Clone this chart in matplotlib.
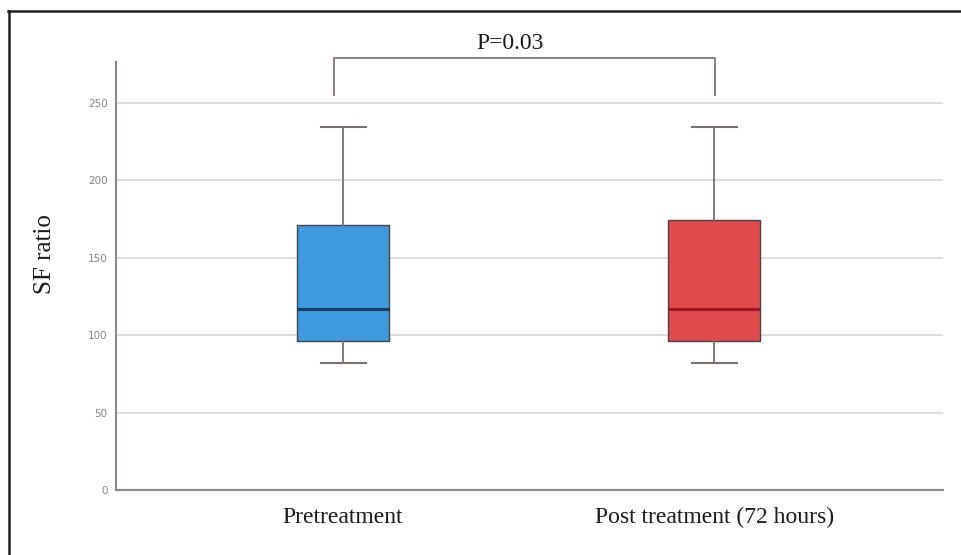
import matplotlib
matplotlib.use("Agg")
import matplotlib.pyplot as plt
from matplotlib.lines import Line2D

# ---- data ----
categories = ["Pretreatment", "Post treatment (72 hours)"]
whisker_low = [81.8, 82.0]
q1 = [96.3, 96.5]
median = [116.9, 117.0]
q3 = [171.2, 174.4]
whisker_high = [234.7, 234.6]
y_ticks = [0, 50, 100, 150, 200, 250]
p_text = "P=0.03"

box_colors = ["#3d9ade", "#e04a4c"]
median_colors = ["#173a68", "#9c1626"]

fig = plt.figure(figsize=(9.62, 5.55), dpi=100)
ax = fig.add_axes([116 / 962, 1 - 490 / 555, (943 - 116) / 962, (490 - 62) / 555])

positions = list(range(len(categories)))
stats = []
for i, c in enumerate(categories):
    stats.append(dict(label=c, whislo=whisker_low[i], q1=q1[i], med=median[i],
                      q3=q3[i], whishi=whisker_high[i], fliers=[]))

bp = ax.bxp(stats, positions=positions, widths=0.248, capwidths=0.121,
            patch_artist=True, showfliers=False, zorder=3,
            whiskerprops=dict(color="#7d716c", lw=1.3),
            capprops=dict(color="#7d716c", lw=1.5),
            boxprops=dict(edgecolor="#4a4444", lw=1.0))
for i, patch in enumerate(bp["boxes"]):
    patch.set_facecolor(box_colors[i])
for i, med in enumerate(bp["medians"]):
    med.set_color(median_colors[i])
    med.set_linewidth(2.2)

ax.set_xlim(-0.612, 1.617)
ax.set_ylim(0, 276.5)
ax.set_yticks(y_ticks)
ax.set_yticklabels([str(t) for t in y_ticks])
ax.tick_params(axis="y", length=0, pad=6, labelsize=7.5, labelcolor="#8a837f")
ax.tick_params(axis="x", length=0, pad=12, labelsize=17)
for lbl in ax.get_xticklabels():
    lbl.set_family("Liberation Serif")
    lbl.set_color("#1a1a1a")

ax.yaxis.grid(True, color="#ddd6d2", lw=1.2, zorder=0)
ax.set_axisbelow(True)
for s in ["top", "right"]:
    ax.spines[s].set_visible(False)
for s in ["left", "bottom"]:
    ax.spines[s].set_color("#8e8480")
    ax.spines[s].set_linewidth(1.5)

ax.set_ylabel("SF ratio", family="Liberation Serif", fontsize=18, color="#1a1a1a", va="center")
ax.yaxis.set_label_coords(-0.086, 0.551)

# significance bracket
bx0, bx1 = positions[0] - 0.024, positions[1] + 0.003
ax.plot([bx0, bx0, bx1, bx1], [255, 279, 279, 255], color="#8a807c", lw=1.4,
        clip_on=False, zorder=4)
ax.text(0.45, 285, p_text, ha="center", va="baseline", family="Liberation Serif",
        fontsize=17, color="#1a1a1a", clip_on=False)

# outer frame
fig.add_artist(Line2D([8 / 962, 1.0], [1 - 11 / 555, 1 - 11 / 555],
                      transform=fig.transFigure, color="#1e1e1e", lw=1.8))
fig.add_artist(Line2D([9 / 962, 9 / 962], [0, 1 - 11 / 555],
                      transform=fig.transFigure, color="#1e1e1e", lw=1.8))

fig.savefig("out.png", dpi=100, facecolor="white")
